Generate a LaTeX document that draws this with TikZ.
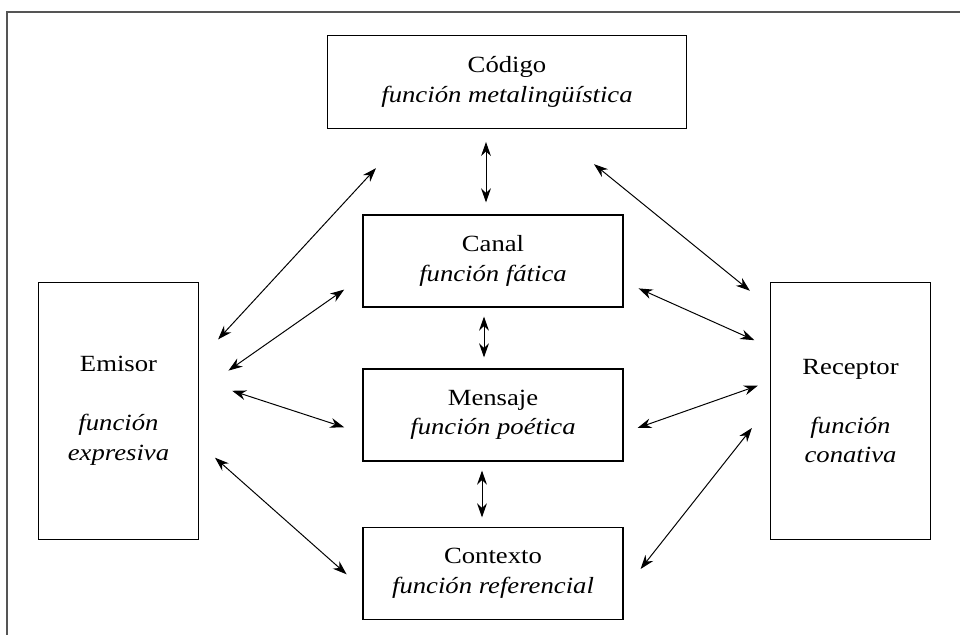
\documentclass[tikz,border=0pt]{standalone}
\usepackage{fontspec}
\setmainfont[FakeStretch=1.15]{Liberation Serif}
\usetikzlibrary{arrows.meta}
\definecolor{framegray}{HTML}{555555}
\tikzset{
  box/.style={draw, line width=0.8pt, align=center, inner sep=0pt,
    font=\fontsize{16.5}{21}\selectfont},
  wide/.style={box, minimum width=8.97cm, minimum height=2.32cm},
  mid/.style={box, minimum width=6.5cm, minimum height=2.3cm},
  side/.style={box, minimum width=4cm, minimum height=6.42cm},
  biarrow/.style={{Stealth[length=10pt,width=7pt]}-{Stealth[length=10pt,width=7pt]}, line width=0.7pt}
}
\begin{document}
\begin{tikzpicture}[x=0.025cm, y=-0.025cm]
      \useasboundingbox (0,0) rectangle (960,635);
      \draw[framegray, line width=1.4pt] (6.7,635) -- (6.7,11.7) -- (960,11.7);
      \node[wide] (codigo) at (507,82) {C\'odigo\\\textit{funci\'on metaling\"u\'istica}};
      \node[mid] (canal) at (493,261) {Canal\\\textit{funci\'on f\'atica}};
      \node[mid] (mensaje) at (493,415) {Mensaje\\\textit{funci\'on po\'etica}};
      \node[mid] (contexto) at (493,573.5) {Contexto\\\textit{funci\'on referencial}};
      \node[side] (emisor) at (118.5,411) {Emisor\\[21pt]\textit{funci\'on}\\\textit{expresiva}};
      \node[side] (receptor) at (850.5,411) {Receptor\\[21pt]\textit{funci\'on}\\\textit{conativa}};
      \begin{scope}[biarrow]
        \draw ([shift={(-21,13)}]codigo.south) -- ([shift={(-7,-12)}]canal.north);
        \draw ([shift={(-9,9)}]canal.south) -- ([shift={(-9,-11)}]mensaje.north);
        \draw ([shift={(-11,9)}]mensaje.south) -- ([shift={(-11,-9.5)}]contexto.north);
        \draw ([shift={(19,-71.6)}]emisor.east) -- ([shift={(49,39.2)}]codigo.south west);
        \draw ([shift={(29.4,-40.4)}]emisor.east) -- ([shift={(-18.2,28.6)}]canal.west);
        \draw ([shift={(33.1,-20.2)}]emisor.east) -- ([shift={(-18.2,12.3)}]mensaje.west);
        \draw ([shift={(15.9,46.7)}]emisor.east) -- ([shift={(-15.8,0.8)}]contexto.west);
        \draw ([shift={(-93,35.2)}]codigo.south east) -- ([shift={(-20,-120.2)}]receptor.west);
        \draw ([shift={(15,27.4)}]canal.east) -- ([shift={(-15.6,-70.8)}]receptor.west);
        \draw ([shift={(13.9,13)}]mensaje.east) -- ([shift={(-12,-25.4)}]receptor.west);
        \draw ([shift={(17,-4.5)}]contexto.east) -- ([shift={(-18,17)}]receptor.west);
      \end{scope}
    \end{tikzpicture}
\end{document}
